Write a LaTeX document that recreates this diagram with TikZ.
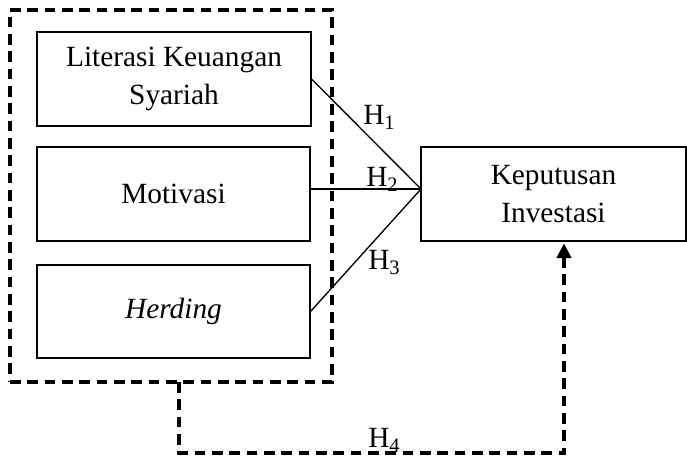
\documentclass[tikz,border=0pt]{standalone}
\usepackage{fontspec}
\setmainfont{Liberation Serif}
\usetikzlibrary{arrows.meta}
\begin{document}
\begin{tikzpicture}[x=0.75pt,y=-0.75pt,
  box/.style={draw,line width=0.8pt,align=center,inner sep=0pt,
    font=\fontsize{22}{28.5}\selectfont},
  dashbox/.style={draw,line width=2.3pt,dash pattern=on 8pt off 5pt,inner sep=0pt},
  dashpath/.style={line width=2.3pt,dash pattern=on 8pt off 5pt},
  conn/.style={line width=1pt},
  hlab/.style={anchor=base west,inner sep=0pt,font=\fontsize{22}{25}\selectfont}]
\useasboundingbox (0,0) rectangle (687,456);
\node[dashbox,minimum width=322*0.75pt,minimum height=372*0.75pt] (outer) at (171,196) {};
\node[box,minimum width=274*0.75pt,minimum height=94*0.75pt] (lks) at (174,79) {Literasi Keuangan\\Syariah};
\node[box,minimum width=273*0.75pt,minimum height=94*0.75pt] (mot) at (173.5,194) {Motivasi};
\node[box,minimum width=273*0.75pt,minimum height=93*0.75pt] (her) at (173.5,311.5) {\textit{Herding}};
\node[box,minimum width=265*0.75pt,minimum height=94*0.75pt] (kep) at (553.5,194) {Keputusan\\Investasi};
\coordinate (j) at (421,189);
\draw[conn] (lks.east) -- (j);
\draw[conn] (mot.east |- j) -- (j);
\draw[conn] (her.east) -- (j);
\node[hlab] (h1) at (363,125) {H\textsubscript{1}};
\node[hlab] (h2) at (366,187) {H\textsubscript{2}};
\node[hlab] (h3) at (368,270) {H\textsubscript{3}};
\coordinate (h4s) at (179,382);
\coordinate (h4c) at (564,453);
\draw[dashpath,-{Triangle[width=11pt,length=11pt]}] (h4s) |- (h4c) -- ([yshift=-1.5pt]h4c |- kep.south);
\node[hlab] (h4) at (368,448) {H\textsubscript{4}};
\end{tikzpicture}
\end{document}
